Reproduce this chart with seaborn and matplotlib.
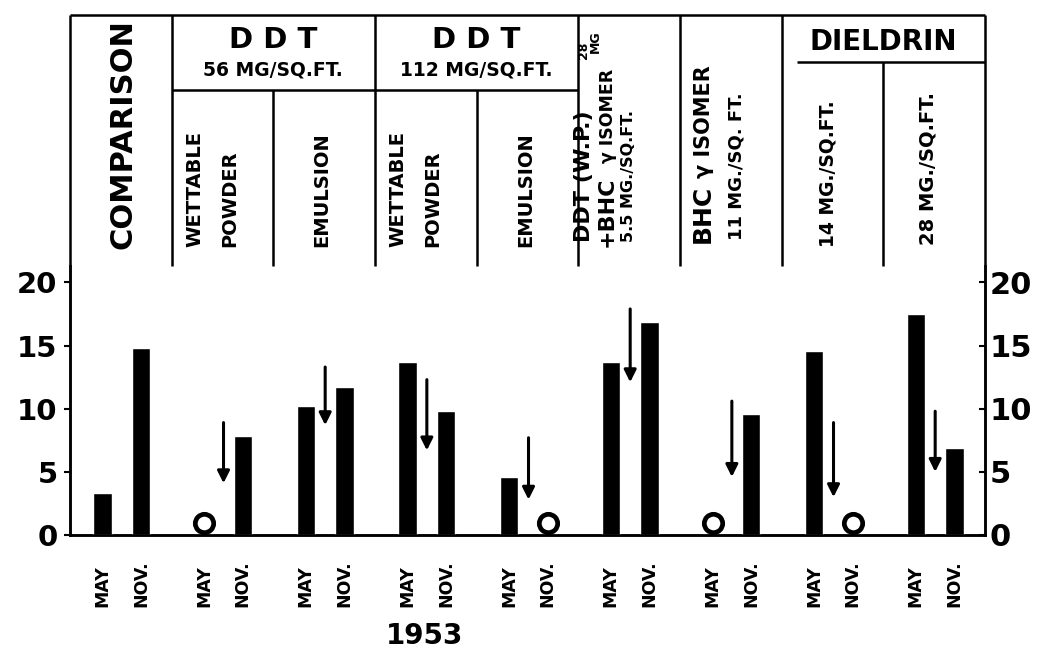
import numpy as np
import pandas as pd
import matplotlib
matplotlib.use("Agg")
import matplotlib.pyplot as plt
from matplotlib import transforms
from matplotlib.ticker import FixedLocator, FixedFormatter
import seaborn as sns

# ---------------- data ----------------
groups = ["COMPARISON", "DDT 56 W.P.", "DDT 56 EMULSION", "DDT 112 W.P.",
          "DDT 112 EMULSION", "DDT+BHC", "BHC", "DIELDRIN 14", "DIELDRIN 28"]
months = ["MAY", "NOV."]
may_values = [3.3, 0.0, 10.2, 13.7, 4.6, 13.7, 0.0, 14.6, 17.5]
nov_values = [14.8, 7.8, 11.7, 9.8, 0.0, 16.9, 9.6, 0.0, 6.9]
arrow_start = [np.nan, 8.9, 13.3, 12.3, 7.7, 17.9, 10.6, 8.9, 9.8]
arrow_end = [np.nan, 4.1, 8.7, 6.7, 2.8, 12.1, 4.6, 3.0, 5.0]
y_ticks = [0, 5, 10, 15, 20]
y_tick_labels = ["0", "5", "10", "15", "20"]
year_label = "1953"

# ---------------- layout ----------------
W, H = 1038, 650
month_offset = {"MAY": 0.32, "NOV.": 0.70}
arrow_offset = 0.51
bar_w = 0.18
ring_y = 0.95

sns.set_theme(style="white")
plt.rcParams["font.family"] = ["DejaVu Sans"]
plt.rcParams["font.weight"] = "bold"
for k in ["text.color", "axes.labelcolor", "xtick.color", "ytick.color",
          "axes.edgecolor"]:
    plt.rcParams[k] = "black"

rows = []
for i, g in enumerate(groups):
    for m, vals in zip(months, [may_values, nov_values]):
        rows.append({"group": g, "month": m, "value": vals[i],
                     "x": i + month_offset[m]})
df = pd.DataFrame(rows)

fig = plt.figure(figsize=(W / 100, H / 100), dpi=100)
fig.patch.set_facecolor("white")

ax_left, ax_right = 70, 985
y_base, y_top, hdr_top = 535, 266, 15
ax = fig.add_axes([ax_left / W, 1 - y_base / H, (ax_right - ax_left) / W,
                   (y_base - y_top) / H])

min_gap = month_offset["NOV."] - month_offset["MAY"]
sns.barplot(data=df, x="x", y="value", native_scale=True, width=bar_w / min_gap,
            color="black", saturation=1, errorbar=None, ax=ax, zorder=3)

zero = df[df["value"] == 0]
ax.scatter(zero["x"], np.full(len(zero), ring_y), s=175, facecolor="white",
           edgecolor="black", linewidth=3.4, zorder=4, clip_on=False)

for i in range(len(groups)):
    if np.isnan(arrow_start[i]):
        continue
    ax.annotate("", xy=(i + arrow_offset, arrow_end[i]),
                xytext=(i + arrow_offset, arrow_start[i]),
                arrowprops=dict(arrowstyle="-|>", color="black", lw=2.2,
                                mutation_scale=18, shrinkA=0, shrinkB=0),
                zorder=5)

ax.set_xlim(0, len(groups))
ax.set_ylim(0, 21.3)
ax.set_xlabel("")
ax.set_ylabel("")
ax.set_xticks(np.arange(1, len(groups)))
ax.set_xticklabels([])
ax.spines["top"].set_visible(False)
for s in ["left", "right", "bottom"]:
    ax.spines[s].set_linewidth(1.8)
    ax.spines[s].set_color("black")

ax2 = ax.twinx()
ax2.set_ylim(0, 21.3)
ax2.spines["top"].set_visible(False)
for s in ["left", "right", "bottom"]:
    ax2.spines[s].set_linewidth(1.8)
    ax2.spines[s].set_color("black")

for a, side_kw in [(ax, dict(direction="out", pad=5, labelsize=21)),
                   (ax2, dict(direction="in", pad=3, labelsize=22))]:
    a.yaxis.set_major_locator(FixedLocator(y_ticks))
    a.yaxis.set_major_formatter(FixedFormatter(y_tick_labels))
    a.tick_params(axis="y", length=4, width=1.5, color="black",
                  labelcolor="black", **side_kw)
    for lab in a.get_yticklabels():
        lab.set_fontweight("bold")
ax.tick_params(axis="x", length=7, width=1.8, direction="out", color="black")

# month labels under the bars
trans = transforms.blended_transform_factory(ax.transData, ax.transAxes)
lab_y = -(607 - y_base) / (y_base - y_top)
for i in range(len(groups)):
    for m in months:
        ax.text(i + month_offset[m], lab_y, m, rotation=90, ha="center",
                va="bottom", fontsize=12.5, fontweight="bold", transform=trans)

fig.text(425 / W, 1 - 636 / H, year_label, ha="center", va="center",
         fontsize=20, fontweight="bold")

# ---------------- header table ----------------
hx = fig.add_axes([ax_left / W, 1 - y_top / H, (ax_right - ax_left) / W,
                   (y_top - hdr_top) / H])
hx.set_xlim(0, len(groups))
hx.set_ylim(y_top, hdr_top)
hx.axis("off")
lw = 1.8
kw = dict(color="black", lw=lw, clip_on=False, solid_capstyle="butt")
hx.plot([0, 9], [hdr_top, hdr_top], **kw)
for xv in [0, 1, 3, 5, 6, 7, 9]:
    hx.plot([xv, xv], [hdr_top, y_top], **kw)
for xv in [2, 4]:
    hx.plot([xv, xv], [90, y_top], **kw)
hx.plot([8, 8], [62, y_top], **kw)
hx.plot([1, 5], [90, 90], **kw)
hx.plot([7.15, 9], [62, 62], **kw)


def hdr(x, y, s, size, rot=0, va="center", ha="center"):
    hx.text(x, y, s, fontsize=size, rotation=rot, va=va, ha=ha,
            fontweight="bold", clip_on=False)


hdr(0.52, 134, "COMPARISON", 22, rot=90)
for c, dose in [(2.0, "56 MG/SQ.FT."), (4.0, "112 MG/SQ.FT.")]:
    hdr(c, 40, "D D T", 21)
    hdr(c, 70, dose, 13.5)
    hdr(c - 0.77, 247, "WETTABLE", 14, rot=90, va="bottom")
    hdr(c - 0.43, 247, "POWDER", 14, rot=90, va="bottom")
    hdr(c + 0.48, 247, "EMULSION", 14, rot=90, va="bottom")

hdr(5.06, 242, "DDT (W.P.)", 16, rot=90, va="bottom")
hdr(5.05, 50, "28", 9, rot=90)
hdr(5.17, 42, "MG", 9, rot=90)
hdr(5.28, 247, "+BHC", 16, rot=90, va="bottom")
hdr(5.29, 163, "γ ISOMER", 12.5, rot=90, va="bottom")
hdr(5.49, 242, "5.5 MG./SQ.FT.", 11.5, rot=90, va="bottom")

hdr(6.22, 243, "BHC", 18, rot=90, va="bottom")
hdr(6.24, 178, "γ ISOMER", 15, rot=90, va="bottom")
hdr(6.56, 240, "11 MG./SQ. FT.", 13, rot=90, va="bottom")

hdr(8.0, 42, "DIELDRIN", 20)
hdr(7.46, 247, "14 MG./SQ.FT.", 13.5, rot=90, va="bottom")
hdr(8.44, 245, "28 MG./SQ.FT.", 14, rot=90, va="bottom")

fig.savefig("out.png", dpi=100, facecolor="white")
